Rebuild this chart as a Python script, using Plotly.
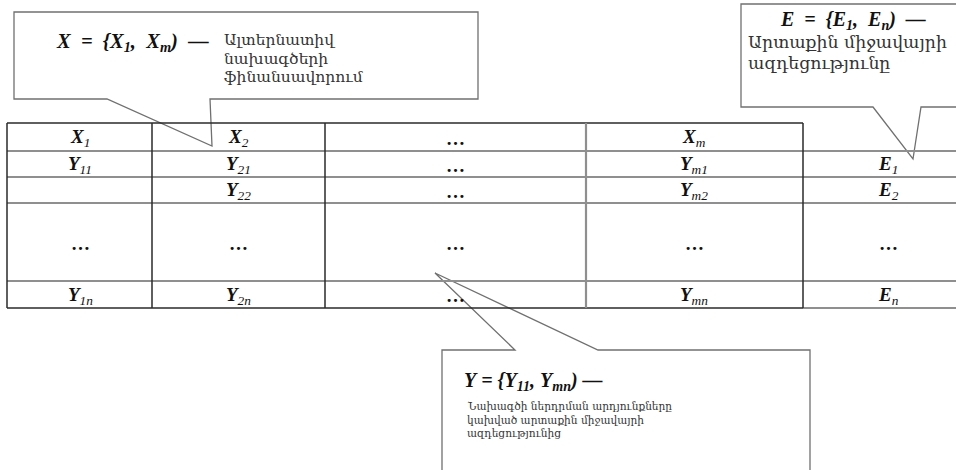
import plotly.graph_objects as go

# ---- data (cell labels) ----
header_labels = [("X", "1"), ("X", "2"), ("…", ""), ("X", "m")]
row_labels = [
    [("Y", "11"), ("Y", "21"), ("…", ""), ("Y", "m1"), ("E", "1")],
    [("", ""), ("Y", "22"), ("…", ""), ("Y", "m2"), ("E", "2")],
    [("…", ""), ("…", ""), ("…", ""), ("…", ""), ("…", "")],
    [("Y", "1n"), ("Y", "2n"), ("…", ""), ("Y", "mn"), ("E", "n")],
]
callout_x_title = "X&nbsp;&nbsp;=&nbsp;&nbsp;{X<sub>1</sub>,&nbsp;&nbsp;X<sub>m</sub>)&nbsp;&nbsp;—"
callout_x_text = ["Ալտերնատիվ", "նախագծերի", "ֆինանսավորում"]
callout_e_title = "E&nbsp;&nbsp;=&nbsp;&nbsp;{E<sub>1</sub>,&nbsp;&nbsp;E<sub>n</sub>)&nbsp;&nbsp;—"
callout_e_text = ["Արտաքին միջավայրի", "ազդեցությունը"]
callout_y_title = "Y&nbsp;=&nbsp;{Y<sub>11</sub>,&nbsp;Y<sub>mn</sub>)&nbsp;—"
callout_y_text = ["Նախագծի ներդրման արդյունքները", "կախված արտաքին միջավայրի", "ազդեցությունից"]

# ---- layout geometry ----
col_edges = [7, 152, 325, 586, 803, 956]
row_edges = [123, 151, 177, 203, 281, 308]
MATH = "Liberation Serif"
ARM = "DejaVu Serif"
DARK = "#2a2a2a"
GRAY = "#8f8f8f"
TXT = "#333333"


def fmt(base, sub):
    if base == "":
        return ""
    if base == "…":
        return "<b>…</b>"
    s = "<b><i>%s</i></b>" % base
    if sub:
        s += "<sub><i>%s</i></sub>" % sub
    return s


fig = go.Figure()
fig.add_trace(go.Scatter(x=[0, 956], y=[0, 470], mode="markers",
                         marker=dict(opacity=0), hoverinfo="skip", showlegend=False))

shapes = []
callout_style = dict(type="path", line=dict(color="#707070", width=1.3), fillcolor="white")
shapes.append(dict(path="M14,12 L478,12 L478,99 L210,99 L212,146 L107,99 L14,99 Z", **callout_style))
shapes.append(dict(path="M741,4 L970,4 L970,107 L921,107 L913,159 L873,107 L741,107 Z", **callout_style))
shapes.append(dict(path="M442,350 L515,350 L435,273 L598,350 L810,350 L810,490 L442,490 Z", **callout_style))

shapes.append(dict(type="line", x0=col_edges[0], x1=col_edges[4], y0=row_edges[0], y1=row_edges[0],
                   line=dict(color=DARK, width=1.5)))
for y in row_edges[1:-1]:
    shapes.append(dict(type="line", x0=col_edges[0], x1=col_edges[5] + 10, y0=y, y1=y,
                       line=dict(color=GRAY, width=1.8)))
shapes.append(dict(type="line", x0=col_edges[0], x1=col_edges[4], y0=row_edges[-1], y1=row_edges[-1],
                   line=dict(color=DARK, width=1.5)))
shapes.append(dict(type="line", x0=col_edges[4], x1=col_edges[5] + 10, y0=row_edges[-1], y1=row_edges[-1],
                   line=dict(color="#6a6a6a", width=1.5)))
for i, x in enumerate(col_edges[:5]):
    c = GRAY if i == 3 else DARK
    w = 2.2 if i == 3 else 1.5
    shapes.append(dict(type="line", x0=x, x1=x, y0=row_edges[0], y1=row_edges[-1],
                       line=dict(color=c, width=w)))
for s in shapes:
    s["xref"] = "x"
    s["yref"] = "y"
    s["layer"] = "above"

annotations = []
col_centers = [80, 238, 455, 694, 888]
row_centers = [(row_edges[i] + row_edges[i + 1]) / 2 for i in range(5)]
for j, (b, s) in enumerate(header_labels):
    annotations.append(dict(x=col_centers[j], y=row_centers[0] + 1, text=fmt(b, s), showarrow=False,
                            font=dict(family=MATH, size=19, color="#111")))
for i, row in enumerate(row_labels):
    for j, (b, s) in enumerate(row):
        t = fmt(b, s)
        if t:
            annotations.append(dict(x=col_centers[j], y=row_centers[i + 1] + 1, text=t, showarrow=False,
                                    font=dict(family=MATH, size=19, color="#111")))

annotations.append(dict(x=54, y=42, text="<b><i>" + callout_x_title + "</i></b>", showarrow=False,
                        xanchor="left", font=dict(family=MATH, size=20.5, color="#111")))
for k, yy in enumerate([40, 58.5, 77]):
    annotations.append(dict(x=222, y=yy, text=callout_x_text[k], showarrow=False, xanchor="left",
                            font=dict(family=ARM, size=15.5, color=TXT)))
annotations.append(dict(x=853, y=20, text="<b><i>" + callout_e_title + "</i></b>", showarrow=False,
                        xanchor="center", font=dict(family=MATH, size=20, color="#111")))
for k, yy in enumerate([42, 63]):
    annotations.append(dict(x=746, y=yy, text=callout_e_text[k], showarrow=False, xanchor="left",
                            font=dict(family=ARM, size=17.3, color=TXT)))
annotations.append(dict(x=462, y=381, text="<b><i>" + callout_y_title + "</i></b>", showarrow=False,
                        xanchor="left", font=dict(family=MATH, size=20, color="#111")))
for k, yy in enumerate([406, 419.5, 433]):
    annotations.append(dict(x=465, y=yy, text=callout_y_text[k], showarrow=False, xanchor="left",
                            font=dict(family=ARM, size=10.6, color=TXT)))
for a in annotations:
    a["xref"] = "x"
    a["yref"] = "y"

fig.update_layout(
    width=956, height=470,
    margin=dict(l=0, r=0, t=0, b=0),
    paper_bgcolor="white", plot_bgcolor="white",
    xaxis=dict(range=[0, 956], visible=False, fixedrange=True),
    yaxis=dict(range=[470, 0], visible=False, fixedrange=True),
    shapes=shapes, annotations=annotations, showlegend=False,
)
fig.write_html("out.html", config={"displayModeBar": False},
               post_script="document.body.style.margin='0';document.body.style.overflow='hidden';")
